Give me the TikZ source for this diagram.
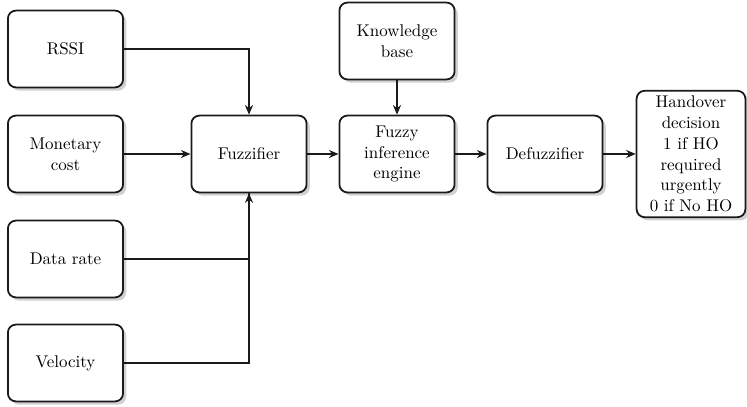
\documentclass[tikz,border=0pt]{standalone}
\usepackage{tikz}
\usepackage{xcolor}
\usetikzlibrary{arrows.meta, positioning, shadows}
\definecolor{BoxLine}{HTML}{1A1A1A}

\begin{document}
\begin{tikzpicture}[
    x=0.625pt, y=0.625pt,
    block/.style={draw=BoxLine, line width=1.1pt, rounded corners=5pt, fill=white,
        minimum width=72pt, minimum height=48pt, align=center, inner sep=2pt,
        font=\fontsize{10.6}{13}\selectfont,
        drop shadow={shadow xshift=2pt, shadow yshift=-2pt, fill=black!30, opacity=0.6}},
    outbox/.style={block, minimum width=68pt, minimum height=79pt},
    flow/.style={draw=BoxLine, line width=1pt, -{Stealth[length=6pt, width=5pt]}},
    link/.style={draw=BoxLine, line width=1pt}
]
\useasboundingbox (0,0) rectangle (747,407);

% Inputs
\node[block] (rssi) at (65.5,358) {RSSI};
\node[block] (cost) at (65.5,253) {Monetary\\cost};
\node[block] (rate) at (65.5,148) {Data rate};
\node[block] (vel)  at (65.5,44)  {Velocity};

% Fuzzy system
\node[block] (fuzz)   at (249,253) {Fuzzifier};
\node[block] (kbase)  at (397,366) {Knowledge\\base};
\node[block] (engine) at (397,253) {Fuzzy\\inference\\engine};
\node[block] (defuzz) at (545,253) {Defuzzifier};
\node[outbox] (hodec) at (691,253) {Handover\\decision\\1 if HO\\required\\urgently\\0 if No HO};

% Connectors
\draw[flow] (rssi.east) -| (fuzz.north);
\draw[flow] (cost) -- (fuzz);
\draw[flow] (rate.east) -| (fuzz.south);
\draw[link] (vel.east) -| (fuzz.south);
\draw[flow] (kbase) -- (engine);
\draw[flow] (fuzz) -- (engine);
\draw[flow] (engine) -- (defuzz);
\draw[flow] (defuzz) -- (hodec);
\end{tikzpicture}
\end{document}
